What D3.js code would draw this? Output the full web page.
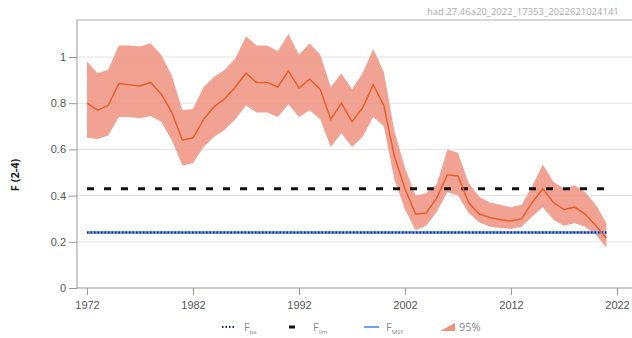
<!DOCTYPE html>
<html>
<head>
<meta charset="utf-8">
<script src="https://cdn.jsdelivr.net/npm/d3@7"></script>
<style>
  body { margin: 0; background: #fff; }
  svg { font-family: "Open Sans", sans-serif; }
  .axis text { fill: #555; font-size: 11px; }
  .axis path, .axis line { stroke: #999; }
</style>
</head>
<body>
<svg id="chart"></svg>
<script>
// data
const years = d3.range(1972, 2022);
const fValues = [0.80, 0.77, 0.79, 0.885, 0.88, 0.875, 0.89, 0.84, 0.76, 0.64,
  0.65, 0.73, 0.785, 0.82, 0.87, 0.93, 0.89, 0.89, 0.87, 0.94,
  0.865, 0.905, 0.86, 0.73, 0.80, 0.72, 0.78, 0.88, 0.79, 0.57,
  0.43, 0.32, 0.325, 0.39, 0.49, 0.485, 0.37, 0.32, 0.305, 0.295,
  0.29, 0.30, 0.37, 0.43, 0.37, 0.34, 0.35, 0.32, 0.27, 0.215];
const fHigh = [0.98, 0.93, 0.945, 1.05, 1.05, 1.045, 1.06, 1.01, 0.92, 0.77,
  0.775, 0.87, 0.915, 0.945, 0.995, 1.09, 1.05, 1.05, 1.025, 1.10,
  1.01, 1.06, 1.01, 0.87, 0.93, 0.86, 0.93, 1.035, 0.935, 0.68,
  0.52, 0.40, 0.41, 0.45, 0.60, 0.585, 0.455, 0.395, 0.37, 0.36,
  0.35, 0.36, 0.44, 0.535, 0.46, 0.43, 0.445, 0.415, 0.36, 0.28];
const fLow = [0.65, 0.645, 0.66, 0.74, 0.74, 0.735, 0.745, 0.72, 0.64, 0.53,
  0.54, 0.61, 0.655, 0.685, 0.73, 0.79, 0.76, 0.76, 0.74, 0.795,
  0.74, 0.77, 0.73, 0.61, 0.67, 0.61, 0.655, 0.74, 0.70, 0.47,
  0.34, 0.25, 0.27, 0.33, 0.415, 0.40, 0.325, 0.285, 0.265, 0.26,
  0.255, 0.265, 0.31, 0.35, 0.295, 0.27, 0.28, 0.265, 0.23, 0.175];
const fLim = 0.43;
const fPa = 0.24;
const fMsy = 0.24;
const yTicks = [0, 0.2, 0.4, 0.6, 0.8, 1];
const xTicks = [1972, 1982, 1992, 2002, 2012, 2022];
const stamp = 'had.27.46a20_2022_17353_2022621024141';

const width = 632, height = 338;
const svg = d3.select('#chart').attr('width', width).attr('height', height);

const x = d3.scaleLinear().domain([1972, 2022]).range([87, 617]);
const y = d3.scaleLinear().domain([0, 1]).range([288, 57]);

// stamp text top right
svg.append('text')
  .attr('x', 427).attr('y', 15)
  .attr('fill', '#aaa').attr('font-size', 9.5)
  .text(stamp);

// panel top border
svg.append('line')
  .attr('x1', 76).attr('x2', width).attr('y1', 20).attr('y2', 20)
  .attr('stroke', '#ccc').attr('stroke-width', 1.5);

// gridlines
svg.append('g').selectAll('line')
  .data(yTicks.slice(1))
  .join('line')
  .attr('x1', 77).attr('x2', width)
  .attr('y1', d => y(d)).attr('y2', d => y(d))
  .attr('stroke', '#e2e2e2');

// axes
svg.append('g')
  .attr('class', 'y axis')
  .attr('transform', 'translate(77, 0)')
  .call(d3.axisLeft(y).tickValues(yTicks).tickSize(8).tickPadding(3).tickFormat(d => d))
  .call(g => g.select('.domain').attr('d', 'M0,20V288'));

svg.append('g')
  .attr('class', 'x axis')
  .attr('transform', 'translate(0, 288)')
  .call(d3.axisBottom(x).tickValues(xTicks).tickSize(7).tickPadding(6).tickFormat(d3.format('d')))
  .call(g => g.select('.domain').attr('d', 'M77,0H' + width));

svg.append('text')
  .attr('transform', 'translate(19, 175) rotate(-90)')
  .attr('text-anchor', 'middle')
  .attr('font-size', 11).attr('font-weight', 'bold').attr('fill', '#222')
  .text('F (2-4)');

// confidence band
const band = d3.area()
  .x((d, i) => x(years[i]))
  .y0((d, i) => y(fLow[i]))
  .y1((d, i) => y(fHigh[i]));

svg.append('path')
  .datum(years)
  .attr('d', band)
  .attr('fill', '#ee9280')
  .attr('opacity', 0.85);

// reference lines
const first = years[0], last = years[years.length - 1];

svg.append('line')
  .attr('x1', x(first)).attr('x2', x(last))
  .attr('y1', y(fMsy)).attr('y2', y(fMsy))
  .attr('stroke', '#6fa0f0').attr('stroke-width', 3);

svg.append('line')
  .attr('x1', x(first)).attr('x2', x(last))
  .attr('y1', y(fPa)).attr('y2', y(fPa))
  .attr('stroke', '#1a2a55').attr('stroke-width', 2)
  .attr('stroke-dasharray', '1.5,2');

svg.append('line')
  .attr('x1', x(first)).attr('x2', x(last))
  .attr('y1', y(fLim)).attr('y2', y(fLim))
  .attr('stroke', '#111').attr('stroke-width', 3)
  .attr('stroke-dasharray', '7,10');

// F line
const line = d3.line()
  .x((d, i) => x(years[i]))
  .y((d, i) => y(fValues[i]));

svg.append('path')
  .datum(years)
  .attr('d', line)
  .attr('fill', 'none')
  .attr('stroke', '#e8602c')
  .attr('stroke-width', 1.5);

// legend
const legend = svg.append('g').attr('transform', 'translate(0, 327)');

legend.append('line')
  .attr('x1', 222).attr('x2', 234).attr('y1', 0).attr('y2', 0)
  .attr('stroke', '#1a2a55').attr('stroke-width', 2).attr('stroke-dasharray', '1.5,2');
legend.append('line')
  .attr('x1', 289).attr('x2', 295).attr('y1', 0).attr('y2', 0)
  .attr('stroke', '#111').attr('stroke-width', 3);
legend.append('line')
  .attr('x1', 364).attr('x2', 379).attr('y1', 0).attr('y2', 0)
  .attr('stroke', '#6fa0f0').attr('stroke-width', 2);
legend.append('path')
  .attr('d', 'M440,4L455,-4L455,4Z')
  .attr('fill', '#ee9280');

const labels = [
  { x: 244, main: 'F', sub: 'pa' },
  { x: 313, main: 'F', sub: 'lim' },
  { x: 386, main: 'F', sub: 'MSY' }
];
labels.forEach(l => {
  const t = legend.append('text')
    .attr('x', l.x).attr('y', 4)
    .attr('fill', '#888').attr('font-size', 11);
  t.append('tspan').text(l.main);
  t.append('tspan').attr('dy', 3).attr('font-size', 6).text(l.sub);
});
legend.append('text')
  .attr('x', 459).attr('y', 4)
  .attr('fill', '#888').attr('font-size', 11)
  .text('95%');
</script>
</body>
</html>
